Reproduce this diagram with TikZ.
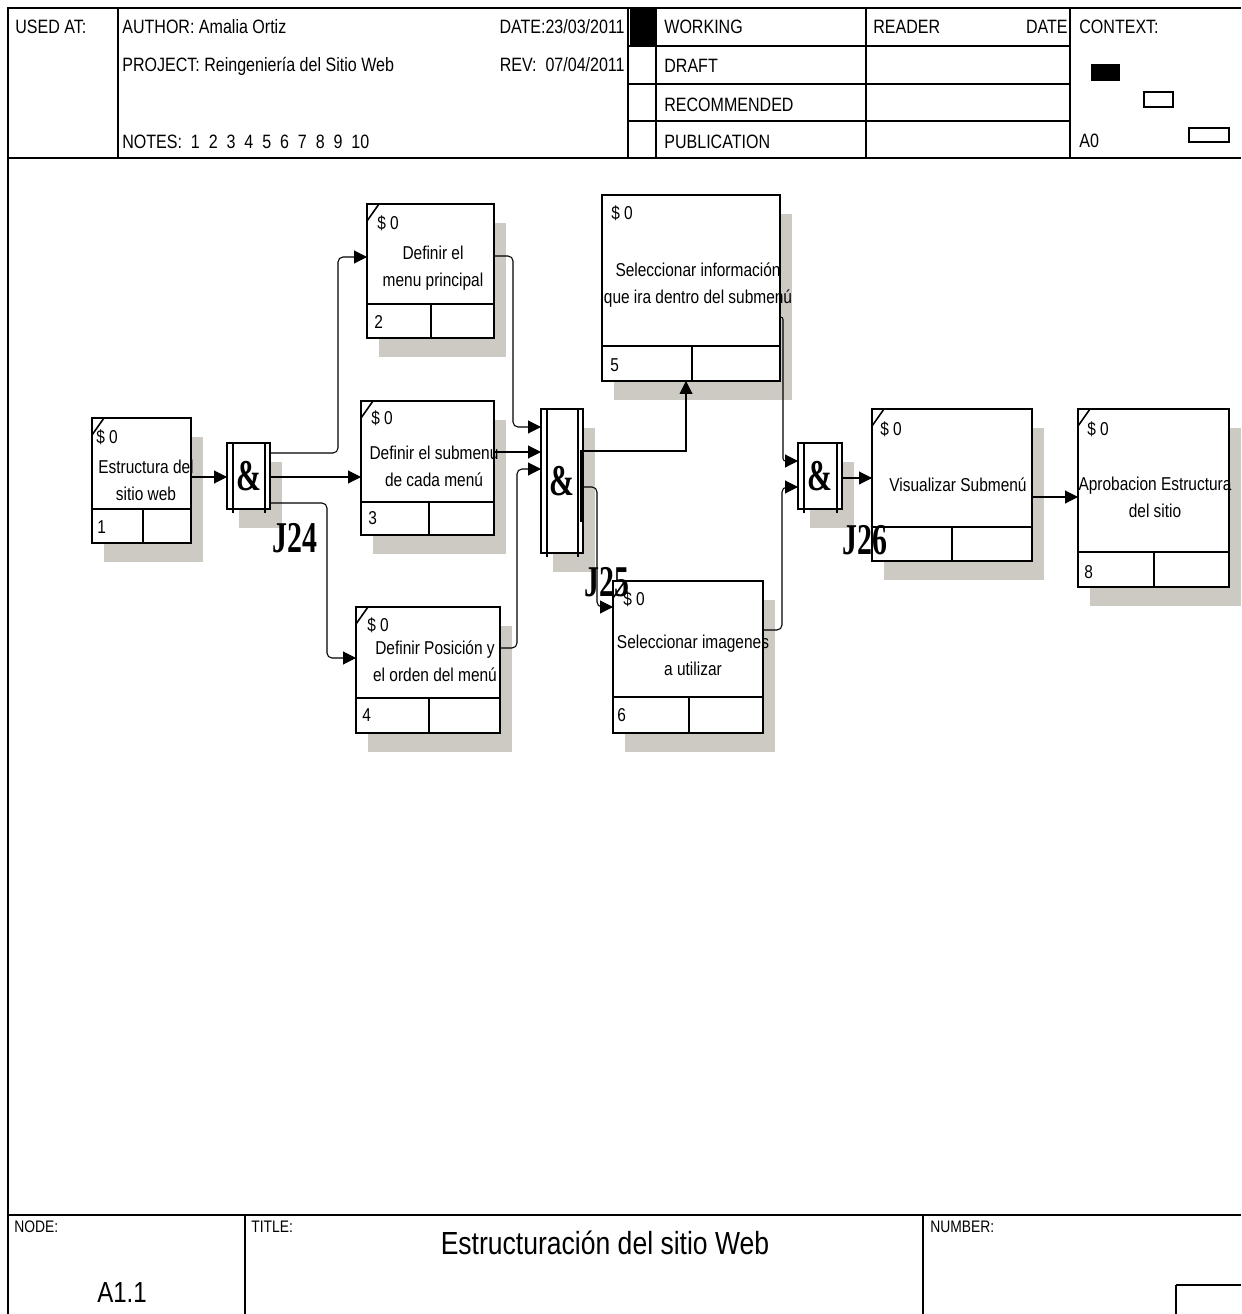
\documentclass[tikz,border=0pt]{standalone}
\usepackage{fontspec}
\setmainfont{Liberation Sans}[FakeStretch=0.83]
\newfontfamily\jfont{Liberation Serif}[FakeStretch=0.68]
\usetikzlibrary{arrows.meta}
\definecolor{shadegray}{RGB}{205,202,195}
\tikzset{
  frame/.style={line width=0.7pt},
  actbox/.style={draw, line width=1.1pt, fill=white, inner sep=0pt, outer sep=0pt},
  junct/.style={draw, line width=1.1pt, fill=white, inner sep=0pt, outer sep=0pt, font=\jfont\bfseries\fontsize{25}{25}\selectfont},
  shade/.style={fill=shadegray},
  hdr/.style={inner sep=0pt, font=\fontsize{11}{13}\selectfont},
  foot/.style={inner sep=0pt, anchor=base west, font=\fontsize{9.5}{11}\selectfont},
  boxtext/.style={inner sep=0pt, align=center, font=\fontsize{10.6}{15.3}\selectfont},
  cost/.style={inner sep=0pt, anchor=west, font=\fontsize{10.6}{12}\selectfont},
  flow/.style={line width=0.6pt, rounded corners=0.1cm, -{Triangle[length=0.26cm,width=0.26cm]}},
  jlabel/.style={inner sep=0pt, font=\jfont\bfseries\fontsize{25}{25}\selectfont},
}
\begin{document}
\begin{tikzpicture}[x=0.02cm, y=-0.02cm]
\useasboundingbox (0,0) rectangle (1241,1314);

\draw[frame] (8,1314) -- (8,8) -- (1241,8);
\draw[frame] (8,158) -- (1241,158);
\foreach \x in {118,628,656,866,1070} \draw[frame] (\x,8) -- (\x,158);
\foreach \y in {46,84,121} \draw[frame] (628,\y) -- (1070,\y);
\fill (630,9) rectangle (655,45);
\fill (1091,64) rectangle (1120,81);
\draw[frame] (1144,92) rectangle (1173,107);
\draw[frame] (1189,128) rectangle (1229,142);
\draw[frame] (8,1215) -- (1241,1215);
\draw[frame] (245,1215) -- (245,1314);
\draw[frame] (923,1215) -- (923,1314);
\draw[frame] (1176,1314) -- (1176,1285);
\draw[line width=1.3pt] (1176,1285) -- (1241,1285);

\node[hdr, anchor=base west] (usedat) at (15,34) {USED AT:};
\node[hdr, anchor=base west] (author) at (122,34) {AUTHOR: Amalia Ortiz};
\node[hdr, anchor=base east] (date) at (625,34) {DATE:23/03/2011};
\node[hdr, anchor=base west] (project) at (122,72) {PROJECT: Reingeniería del Sitio Web};
\node[hdr, anchor=base east] (rev) at (625,72) {REV:~~07/04/2011};
\node[hdr, anchor=base west] (notes) at (122,149) {NOTES:~~1~~2~~3~~4~~5~~6~~7~~8~~9~~10};
\node[hdr, anchor=base west] (working) at (664,34) {WORKING};
\node[hdr, anchor=base west] (draft) at (664,73) {DRAFT};
\node[hdr, anchor=base west] (recommended) at (664,112) {RECOMMENDED};
\node[hdr, anchor=base west] (publication) at (664,149) {PUBLICATION};
\node[hdr, anchor=base west] (reader) at (873,34) {READER};
\node[hdr, anchor=base east] (rdate) at (1068,34) {DATE};
\node[hdr, anchor=base west] (context) at (1079,34) {CONTEXT:};
\node[hdr, anchor=base west] (azero) at (1079,148) {A0};

\node[foot] (nodelbl) at (14,1232) {NODE:};
\node[foot] (titlelbl) at (251,1232) {TITLE:};
\node[foot] (numberlbl) at (930,1232) {NUMBER:};
\node[inner sep=0pt, anchor=base, font=\fontsize{18.2}{20}\selectfont] (title) at (605,1254) {Estructuración del sitio Web};
\node[inner sep=0pt, anchor=base, font=\fontsize{16.5}{18}\selectfont] (nodeno) at (122,1302) {A1.1};

\foreach \n/\xa/\ya/\xb/\yb/\yc/\xd in {1/92/418/191/543/509/143, 2/367/204/494/338/304/431, 3/361/401/494/535/502/429, 4/356/607/500/733/698/429, 5/602/195/780/381/346/692, 6/613/581/763/733/697/689, 7/872/409/1032/561/527/952, 8/1078/409/1229/587/552/1154}{
  \fill[shade] (\xa+12,\ya+19) rectangle (\xb+12,\yb+19);
  \node[actbox, minimum width={(\xb-\xa)*0.02cm}, minimum height={(\yb-\ya)*0.02cm}] (b\n) at ({(\xa+\xb)/2},{(\ya+\yb)/2}) {};
  \draw[line width=1.1pt] (\xa,\yc) -- (\xb,\yc) (\xd,\yc) -- (\xd,\yb);
}
\foreach \n in {1,2,3,4,6,7,8} \draw[line width=0.9pt] (b\n.north west) ++(0,17) -- ++(12,-17);

\foreach \n/\xa/\ya/\xb/\yb in {24/227/443/270/509, 25/541/409/583/553, 26/798/443/842/509}{
  \fill[shade] (\xa+12,\ya+19) rectangle (\xb+12,\yb+19);
  \node[junct, minimum width={(\xb-\xa)*0.02cm}, minimum height={(\yb-\ya)*0.02cm}] (j\n) at ({(\xa+\xb)/2},{(\ya+\yb)/2}) {\&};
  \draw[line width=1pt] (\xa+6,\ya) -- (\xa+6,\yb+4) (\xb-5,\ya) -- (\xb-5,\yb+4);
}
\draw[line width=1.4pt] (581,450) -- (581,522);

\node[cost] (c1) at (96,437) {\$ 0};
\node[boxtext] (t1) at (146,480) {Estructura del\\sitio web};
\node[cost] (n1) at (97,527) {1};
\node[cost] (c2) at (377,223) {\$ 0};
\node[boxtext] (t2) at (433,268) {Definir el\\menu principal};
\node[cost] (n2) at (374,322) {2};
\node[cost] (c3) at (371,418) {\$ 0};
\node[boxtext] (t3) at (434,466) {Definir el submenu\\de cada menú};
\node[cost] (n3) at (368,518) {3};
\node[cost] (c4) at (367,625) {\$ 0};
\node[boxtext] (t4) at (435,661) {Definir Posición y\\el orden del menú};
\node[cost] (n4) at (362,715) {4};
\node[cost] (c5) at (611,213) {\$ 0};
\node[boxtext] (t5) at (698,285) {Seleccionar información\\que ira dentro del submenú};
\node[cost] (n5) at (610,365) {5};
\node[cost] (c6) at (623,599) {\$ 0};
\node[boxtext] (t6) at (693,655) {Seleccionar imagenes\\a utilizar};
\node[cost] (n6) at (617,715) {6};
\node[cost] (c7) at (880,429) {\$ 0};
\node[boxtext] (t7) at (958,485) {Visualizar Submenú};
\node[cost] (c8) at (1087,429) {\$ 0};
\node[boxtext] (t8) at (1155,497) {Aprobacion Estructura\\del sitio};
\node[cost] (n8) at (1084,572) {8};

\draw[flow] (b1.east |- 0,477) -- (j24.west |- 0,477);
\draw[flow] (j24.east |- 0,453) -- ++(68,0) |- (b2.west |- 0,257);
\draw[flow] (j24.east |- 0,477) -- (b3.west |- 0,477);
\draw[flow] (j24.east |- 0,503) -- ++(57,0) |- (b4.west |- 0,658);
\draw[flow] (b2.east |- 0,256) -- ++(19,0) |- (j25.west |- 0,427);
\draw[flow] (b3.east |- 0,452) -- (j25.west |- 0,452);
\draw[flow] (b4.east |- 0,648) -- ++(17,0) |- (j25.west |- 0,469);
\draw[flow, rounded corners=0pt] (j25.east |- 0,451) -| (686,0 |- b5.south);
\draw[flow] (j25.east |- 0,487) -- ++(14,0) |- (b6.west |- 0,607);
\draw[flow, rounded corners=0.05cm] (b5.east |- 0,317) -- ++(3,0) |- (j26.west |- 0,461);
\draw[flow] (b6.east |- 0,630) -- ++(19,0) |- (j26.west |- 0,487);
\draw[flow] (j26.east |- 0,478) -- (b7.west |- 0,478);
\draw[flow] (b7.east |- 0,497) -- (b8.west |- 0,497);

\node[jlabel] (l24) at (295,538) {J24};
\node[jlabel] (l25) at (607,582) {J25};
\node[jlabel] (l26) at (865,540) {J26};
\end{tikzpicture}
\end{document}
